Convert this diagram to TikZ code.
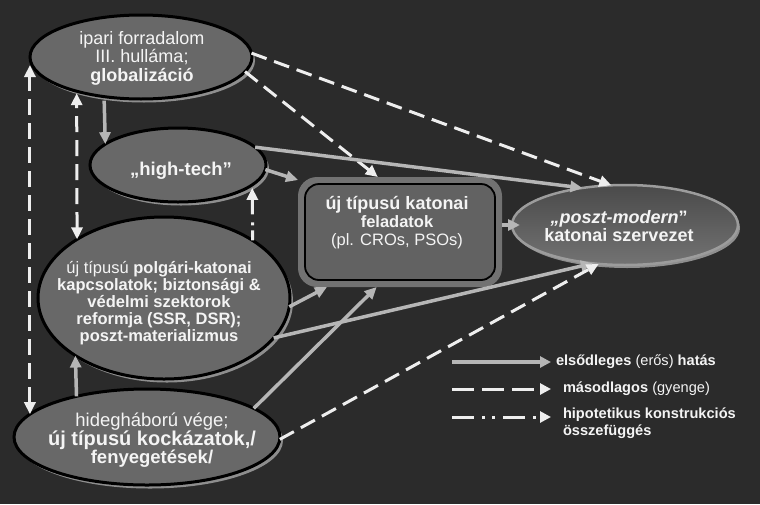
\documentclass[tikz,border=0pt]{standalone}
\usepackage{fontspec}
\setmainfont{Liberation Sans}
\usetikzlibrary{arrows.meta,shapes.geometric,calc,shadows}
\definecolor{bg}{HTML}{2B2B2B}
\definecolor{ellfill}{HTML}{686868}
\definecolor{shad}{HTML}{8E8E8E}
\definecolor{solidc}{HTML}{B6B6B6}
\definecolor{dashc}{HTML}{EEEEEE}
\definecolor{txt}{HTML}{F4F4F4}
\definecolor{pmline}{HTML}{9C9C9C}
\definecolor{pmtop}{HTML}{4A4A4A}
\definecolor{pmbot}{HTML}{737373}
\definecolor{frame}{HTML}{727272}
\definecolor{boxfill}{HTML}{626262}
\newcommand{\fsz}[2]{\fontsize{#1}{#2}\selectfont}
\begin{document}
\begin{tikzpicture}[x=1pt,y=-1pt,
  every node/.style={inner sep=0pt, outer sep=0pt},
  ell/.style={ellipse, draw=black, line width=3pt, fill=ellfill,
    drop shadow={shadow xshift=3pt, shadow yshift=-3.5pt, fill=shad, opacity=1}},
  pmell/.style={ellipse, draw=pmline, line width=2.5pt, top color=pmtop, bottom color=pmbot,
    drop shadow={shadow xshift=2pt, shadow yshift=-3pt, fill=shad, opacity=1}},
  lbl/.style={text=txt, align=center},
  leg/.style={text=txt, align=left, anchor=west, font=\fsz{14.6}{16.5}},
  tip/.style={-{Triangle[length=12pt,width=11pt]}},
  solidarr/.style={draw=solidc, line width=3.5pt, tip},
  dasharr/.style={draw=dashc, line width=3pt, dash pattern=on 16pt off 8pt, tip},
  dashdbl/.style={draw=dashc, line width=3pt, dash pattern=on 16pt off 8pt,
    {Triangle[length=12pt,width=11pt]}-{Triangle[length=12pt,width=11pt]}},
  dotarr/.style={draw=dashc, line width=3pt, dash pattern=on 10pt off 5pt on 3pt off 8pt on 22pt off 6pt, tip}
]
\fill[bg] (0,0) rectangle (760,504);
\useasboundingbox (0,0) rectangle (760,504);

% nodes
\node[ell, minimum width=222pt, minimum height=84pt] (ip) at (141,57) {};
\node[ell, minimum width=176pt, minimum height=74pt] (ht) at (178,165) {};
\node[ell, minimum width=252pt, minimum height=162pt] (pk) at (164,298) {};
\node[ell, minimum width=266pt, minimum height=96pt] (hd) at (147,437) {};
\node[pmell, minimum width=226pt, minimum height=80pt] (pm) at (625,225) {};
\node[rectangle, rounded corners=19pt, fill=frame, minimum width=204pt, minimum height=110pt] (uj) at (400,232) {};
\node[rectangle, rounded corners=14pt, draw=black, line width=1.8pt, fill=boxfill, minimum width=190pt, minimum height=96pt] (ujin) at (400,232) {};

% texts
\node[lbl, font=\fsz{18}{18.5}] (ipT) at (142,58) {ipari forradalom\\III. hulláma;\\\textbf{globalizáció}};
\node[lbl, font=\fsz{18.5}{19}] (htT) at (181,171) {\textbf{„high-tech”}};
\node[lbl, font=\fsz{16.5}{17}] (pkT) at (159,303) {új típusú \textbf{polgári-katonai}\\\textbf{kapcsolatok; biztonsági \&}\\\textbf{védelmi szektorok}\\\textbf{reformja (SSR, DSR);}\\\textbf{poszt-materializmus}};
\node[lbl, font=\fsz{18.5}{18}] (hdT) at (152,440) {hidegháború vége;\\{\fsz{20}{18}\textbf{új típusú kockázatok,/}}\\\textbf{fenyegetések/}};
\node[lbl, font=\fsz{16.5}{18}] (ujT) at (397,223) {{\fsz{18}{18}\textbf{új típusú katonai}}\\\textbf{feladatok}\\(pl. CROs, PSOs)};
\node[lbl, font=\fsz{18}{16}] (pmT) at (619,226) {\textbf{\textit{„poszt-modern}”}\\\textbf{katonai szervezet}};

% connectors
\draw[solidarr, shorten <=4pt] (ip.227.6) -- (ht.164.9);
\draw[dasharr] (ip.2) -- (pm.109);
\draw[dasharr] (ip.-8) -- (uj.112.5);
\draw[solidarr] (ht.13) -- (pm.139);
\draw[solidarr] (ht.-3) -- (uj.153);
\draw[solidarr, shorten >=-8pt] (uj.east |- pm.west) -- (pm.west);
\draw[solidarr] (pk.-4) -- (uj.217);
\draw[solidarr] (pk.-20) -- (pm.230);
\draw[solidarr] (hd.15.6) -- (uj.247);
\draw[dasharr] (hd.-1) -- (pm.236);
\draw[solidarr] (hd.150.2) -- (pk.213.4);
\draw[dashdbl] (hd.169.5) -- ($(hd.169.5 |- ip.west)+(0,8)$);
\draw[dashdbl, shorten >=2pt] (pk.146.6) -- (ip.208.2);
\draw[dotarr, shorten >=3pt] (pk.33.4) -- (ht.-15.1);

% legend
\coordinate (la1) at (452,362); \coordinate (lb1) at (551,362);
\coordinate (la2) at (452,389); \coordinate (lb2) at (551,389);
\coordinate (la3) at (452,417); \coordinate (lb3) at (551,417);
\draw[draw=solidc, line width=3.5pt, -{Triangle[length=11pt,width=11pt]}] (la1) -- (lb1);
\draw[draw=dashc, line width=3pt, dash pattern=on 22pt off 8pt, -{Triangle[length=11pt,width=11pt]}] (la2) -- (lb2);
\draw[draw=dashc, line width=3pt, dash pattern=on 22pt off 8pt on 3pt off 7pt on 3pt off 8pt, -{Triangle[length=11pt,width=11pt]}] (la3) -- (lb3);
\node[leg] (lt1) at (556,362) {\textbf{elsődleges} (erős) \textbf{hatás}};
\node[leg] (lt2) at (563,389) {\textbf{másodlagos} (gyenge)};
\node[leg, anchor=north west] (lt3) at (563,408) {\textbf{hipotetikus konstrukciós}\\\textbf{összefüggés}};
\end{tikzpicture}
\end{document}
